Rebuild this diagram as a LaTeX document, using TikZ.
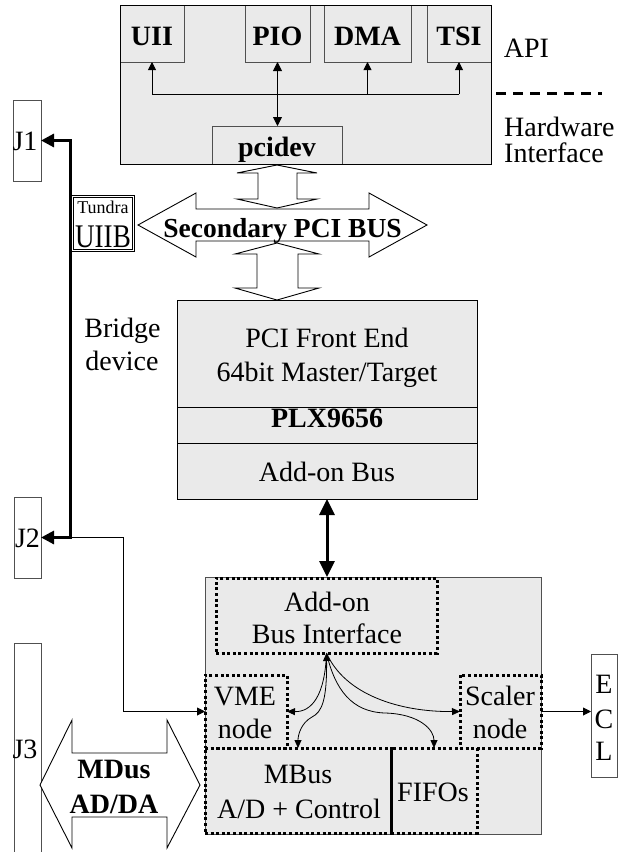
\documentclass[tikz,border=0pt]{standalone}
\usepackage{fontspec}
\setmainfont{Liberation Serif}
\usetikzlibrary{arrows.meta}
\definecolor{boxgray}{RGB}{234,234,234}
\definecolor{edgegray}{RGB}{80,80,80}
\newcommand{\txtfont}{\fontsize{28}{33}\selectfont}
\newcommand{\boldfont}{\fontsize{28}{33}\selectfont\bfseries}
\begin{document}
\begin{tikzpicture}[x=1pt,y=-1pt,
  box/.style={draw=black, fill=boxgray, line width=1pt, inner sep=0pt, outer sep=0pt, anchor=north west},
  gbox/.style={box, draw=edgegray},
  dotbox/.style={draw=black, line width=3pt, dash pattern=on 3pt off 2.6pt, inner sep=0pt, outer sep=0pt, anchor=north west},
  txt/.style={font=\txtfont, inner sep=0pt, anchor=base},
  btxt/.style={font=\boldfont, inner sep=0pt, anchor=base},
  thinarr/.style={line width=0.9pt, -{Triangle[length=8pt,width=8pt]}},
  curvarr/.style={line width=0.8pt, -{Triangle[length=8pt,width=7pt]}},
  blockarr/.style={draw=black, fill=white, line width=0.9pt, line join=miter},
]
\fill[white] (0,0) rectangle (618,852);
\useasboundingbox (0,0) rectangle (618,852);

% ---------- API block ----------
\node[box, draw=none, minimum width=371pt, minimum height=159pt] (api) at (120,5) {};
\node[gbox, minimum width=64pt, minimum height=57pt] (uii) at (120,5) {};
\node[gbox, minimum width=65pt, minimum height=57pt] (pio) at (245,5) {};
\node[gbox, minimum width=87pt, minimum height=57pt] (dma) at (324,5) {};
\node[gbox, minimum width=64pt, minimum height=57pt] (tsi) at (427,5) {};
\node[gbox, minimum width=130pt, minimum height=38pt] (pcidev) at (212,126) {};
\draw[line width=1pt] (api.north west) rectangle (api.south east);
\node[btxt] (uiit) at (152,45) {UII};
\node[btxt] (piot) at (277.5,45) {PIO};
\node[btxt] (dmat) at (367.5,45) {DMA};
\node[btxt] (tsit) at (459,45) {TSI};
\node[btxt] (pcidevt) at (277,156) {pcidev};

\coordinate (hl) at (152,94);
\coordinate (hr) at (459,94);
\draw[line width=0.9pt] (hl) -- (hr);
\draw[thinarr] (hl) -- (uii.south);
\draw[thinarr] (dma.south |- hl) -- (dma.south);
\draw[thinarr] (hr) -- (tsi.south);
\draw[line width=0.9pt, {Triangle[length=9pt,width=9pt]}-{Triangle[length=9pt,width=9pt]}] (pio.south) -- (pio.south |- pcidev.north);

\node[txt] (apit) at (526.5,57) {API};
\coordinate (dl) at (496,93);
\coordinate (dr) at (602,93);
\draw[line width=3pt, dash pattern=on 10pt off 7pt] (dl) -- (dr);
\node[txt, anchor=base west] (hwt) at (504,136) {Hardware};
\node[txt, anchor=base west] (ift) at (504,162) {Interface};

% ---------- connectors J ----------
\node[gbox, fill=white, minimum width=28pt, minimum height=81pt] (j1) at (13,100) {};
\node[txt] (j1t) at (25,150) {J1};
\node[gbox, fill=white, minimum width=27pt, minimum height=81pt] (j2) at (14,497) {};
\node[txt] (j2t) at (27.5,547) {J2};
\node[gbox, fill=white, minimum width=27pt, minimum height=220pt] (j3) at (14,643) {};
\node[txt] (j3t) at (25,758) {J3};

\coordinate (jc) at (70,537.5);
\coordinate (jk) at (123,537.5);
\draw[line width=3pt, line join=miter, {Triangle[length=13pt,width=13pt]}-{Triangle[length=13pt,width=13pt]}] (j1.east) -| (jc) -- (j2.east);

% ---------- Tundra ----------
\node[draw=black, fill=white, double, double distance=1.4pt, line width=0.8pt, inner sep=0pt, outer sep=0pt, minimum width=61pt, minimum height=54pt, anchor=north west] (tundra) at (72.5,196.5) {};
\node[inner sep=0pt, anchor=base, font=\fontsize{18}{18}\selectfont] (tundt) at (103,213) {Tundra};
\node[inner sep=0pt, anchor=base, font=\fontsize{33}{33}\selectfont] (uiibt) at (103,247) {\scalebox{0.82}[1]{UIIB}};

% ---------- Secondary PCI bus ----------
\draw[blockarr] (138,225) -- (196,193) -- (196,209) -- (369,209) -- (369,193) -- (427,225) -- (369,257) -- (369,241) -- (196,241) -- (196,257) -- cycle;
\node[inner sep=0pt, anchor=base, font=\fontsize{27.5}{33}\selectfont\bfseries] (bust) at (282.5,237) {Secondary PCI BUS};
\draw[blockarr] (277,165) -- (317,173) -- (297,173) -- (297,199) -- (317,199) -- (277,208) -- (237,199) -- (258,199) -- (258,173) -- (237,173) -- cycle;
\draw[blockarr] (277,243) -- (319,254) -- (298,254) -- (298,288) -- (319,288) -- (277,300) -- (235,288) -- (257,288) -- (257,254) -- (235,254) -- cycle;

\node[txt] (bridge) at (122.5,337) {Bridge};
\node[txt] (device) at (122,370) {device};

% ---------- PLX block ----------
\node[box, minimum width=300pt, minimum height=107pt] (fe) at (177,300) {};
\node[box, minimum width=300pt, minimum height=36pt] (plx) at (177,407) {};
\node[box, minimum width=300pt, minimum height=56pt] (aob) at (177,443) {};
\node[txt] (fet1) at (327,347) {PCI Front End};
\node[txt] (fet2) at (327,381) {64bit Master/Target};
\node[btxt] (plxt) at (327,427) {PLX9656};
\node[txt] (aobt) at (327,481) {Add-on Bus};

% ---------- Add-on board ----------
\node[gbox, minimum width=336pt, minimum height=257pt] (addon) at (205,577) {};
\draw[line width=3pt, {Triangle[length=16pt,width=15pt]}-{Triangle[length=16pt,width=15pt]}] (aob.south) -- (aob.south |- addon.north);

\node[dotbox, minimum width=221pt, minimum height=75pt] (abi) at (216,578) {};
\node[dotbox, minimum width=82pt, minimum height=73pt] (vme) at (205,675) {};
\node[dotbox, minimum width=186pt, minimum height=85pt] (mbus) at (205,748) {};
\node[dotbox, minimum width=86pt, minimum height=85pt] (fifo) at (391,748) {};
\node[dotbox, minimum width=81pt, minimum height=73pt] (scaler) at (460,675) {};
\draw[line width=3pt] (mbus.north east) -- (mbus.south east);

\node[txt] (abit1) at (327,611) {Add-on};
\node[txt] (abit2) at (327,643) {Bus Interface};
\node[txt] (vmet1) at (245,705) {VME};
\node[txt] (vmet2) at (245,738) {node};
\node[txt] (mbust1) at (298,783) {MBus};
\node[txt] (mbust2) at (299,818) {A/D + Control};
\node[txt] (fifot) at (433,801) {FIFOs};
\node[txt] (scalt1) at (500,705) {Scaler};
\node[txt] (scalt2) at (500,738) {node};

\draw[thinarr] (jc) -- (jk) |- (vme.west);

% curved internal links
\draw[curvarr] (abi.south) .. controls (325,695) and (312,712) .. (vme.east);
\draw[line width=0.8pt, {Triangle[length=8pt,width=7pt]}-{Triangle[length=8pt,width=7pt]}] (abi.south) .. controls (327,700) and (322,712) .. (312,717) .. controls (301,723) and (298,735) .. (mbus.north);
\draw[curvarr] (abi.south) .. controls (335,690) and (352,712) .. (385,713) .. controls (420,714) and (434,730) .. (fifo.north);
\draw[curvarr] (abi.south) .. controls (345,695) and (400,712) .. (scaler.west);

% ---------- ECL ----------
\node[gbox, fill=white, minimum width=26pt, minimum height=123pt] (ecl) at (591,654) {};
\node[txt] (eclE) at (604,693) {E};
\node[txt] (eclC) at (604,728) {C};
\node[txt] (eclL) at (604,760) {L};
\draw[thinarr] (scaler.east) -- (scaler.east -| ecl.west);

% ---------- MDus ----------
\draw[blockarr] (40,785) -- (72,720) -- (72,753) -- (167,753) -- (167,720) -- (200,785) -- (167,848) -- (167,817) -- (72,817) -- (72,848) -- cycle;
\node[btxt] (mdust1) at (114,778) {MDus};
\node[btxt] (mdust2) at (114,813) {AD/DA};
\end{tikzpicture}
\end{document}
